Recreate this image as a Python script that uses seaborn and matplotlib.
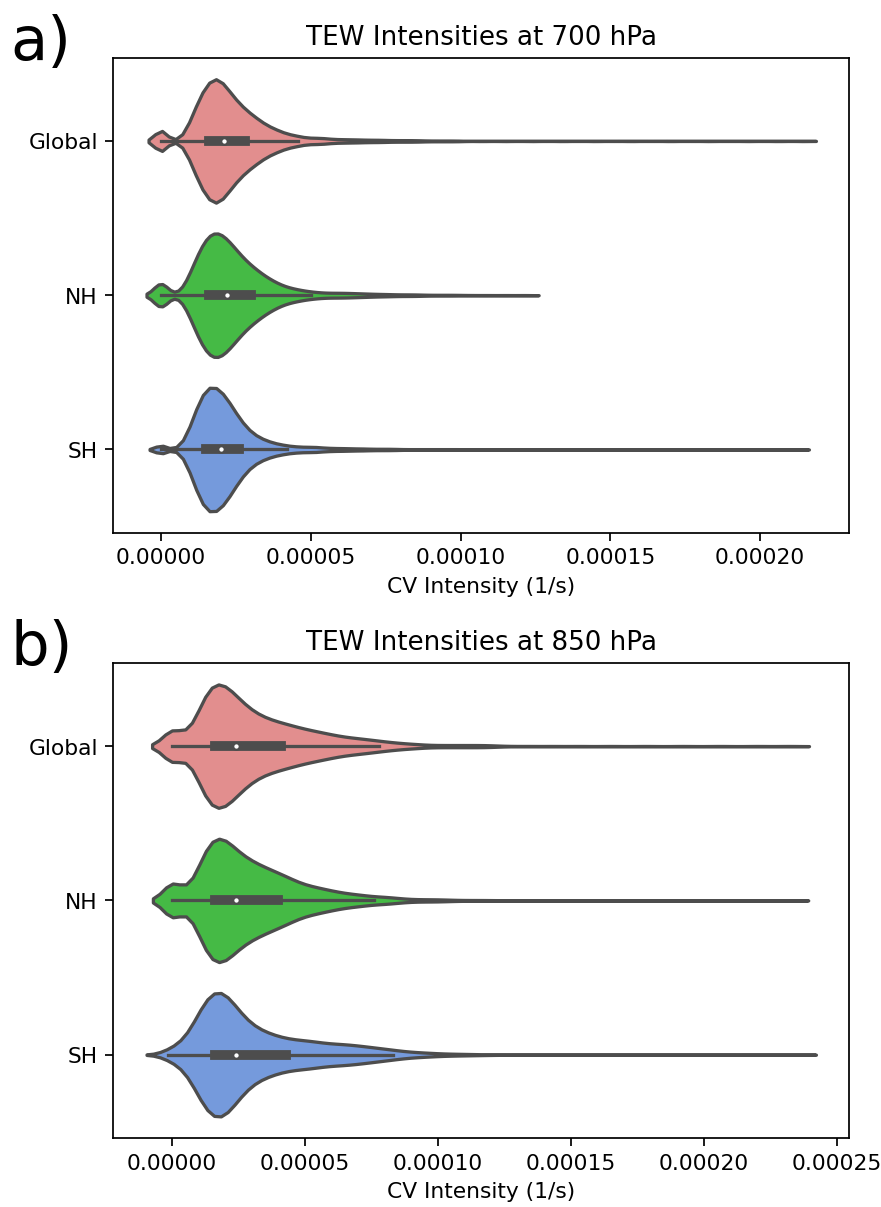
import numpy as np
import pandas as pd
import matplotlib.pyplot as plt
import seaborn as sns

regions = ["Global", "NH", "SH"]
colors = ["lightcoral", "limegreen", "cornflowerblue"]
gray = (0.3, 0.3, 0.3)
unit = 1e-5  # all intensities below are in units of 1e-5 1/s

# 700 hPa: intensity bins and number of TEWs per bin
bins_700 = [0.0, 0.2, 0.4, 0.6, 0.8, 1.0, 1.2, 1.4, 1.6, 1.8, 2.0, 2.2, 2.4, 2.6, 2.8, 3.0,
            3.2, 3.4, 3.6, 3.8, 4.0, 4.2, 4.4, 4.6, 4.8, 5.0, 5.2, 5.4, 5.6, 5.8, 6.0,
            6.2, 6.4, 6.6, 6.8, 7.0, 7.2, 7.4, 7.6, 7.8, 8.0, 8.2, 8.4, 8.6, 8.8, 9.0,
            9.2, 9.4, 9.6, 9.8, 10.0]
global_700 = [66, 0, 0, 0, 18, 54, 96, 130, 150, 168, 156, 135, 114, 96, 81, 69,
              58, 46, 37, 31, 24, 18, 15, 12, 8, 8, 8, 8, 6, 4, 5,
              4, 4, 4, 3, 3, 3, 3, 2, 2, 2, 2, 2, 2, 1, 1, 1, 1, 1, 1, 1]
nh_700 = [84, 0, 0, 0, 21, 60, 99, 132, 153, 162, 156, 141, 123, 105, 87, 75,
          63, 51, 42, 33, 26, 20, 17, 14, 11, 9, 8, 6, 6, 6, 6,
          6, 5, 5, 4, 4, 3, 3, 3, 2, 2, 2, 2, 2, 1, 1, 1, 1, 1, 1, 1]
sh_700 = [27, 0, 0, 6, 27, 72, 126, 165, 186, 186, 171, 150, 120, 93, 69, 51,
          39, 30, 24, 18, 15, 12, 9, 9, 7, 8, 8, 5, 5, 4, 4,
          4, 3, 3, 3, 2, 2, 2, 2, 2, 1, 1, 1, 1, 1, 1, 1, 1, 1, 1, 1]
# single events off the bin grid (mostly the strong tail)
global_700_extra = [4.59, 10.7, 11.5, 12.4, 13.4, 14.5, 15.7, 17.0, 18.3, 19.6, 20.6, 21.45]
nh_700_extra = [10.4, 10.9, 11.5, 12.13]
sh_700_extra = [10.2, 11.1, 12.1, 13.2, 14.4, 15.6, 16.9, 18.2, 19.5, 20.6, 21.25]

# 850 hPa
bins_850 = [0.0, 0.4, 0.8, 1.2, 1.6, 2.0, 2.4, 2.8, 3.2, 3.6, 4.0, 4.4, 4.8, 5.2, 5.6, 6.0,
            6.4, 6.8, 7.2, 7.6, 8.0, 8.4, 8.8, 9.2, 9.6, 10.0, 10.4, 10.8, 11.2, 11.6, 12.0]
global_850 = [90, 9, 45, 150, 186, 171, 138, 108, 87, 75, 66, 59, 50, 44, 38, 32,
              26, 23, 20, 16, 12, 10, 7, 6, 3, 3, 3, 3, 3, 3, 3]
nh_850 = [90, 9, 39, 138, 177, 165, 132, 111, 96, 84, 72, 60, 45, 38, 32, 26,
          20, 17, 14, 10, 10, 7, 4, 3, 3, 3, 2, 1, 1, 1, 1]
sh_850 = [24, 27, 78, 150, 186, 174, 126, 90, 69, 59, 48, 42, 39, 38, 32, 29,
          29, 26, 23, 19, 16, 11, 9, 6, 6, 3, 3, 2, 2, 1, 1]
global_850_extra = [7.8, 12.6, 13.4, 14.3, 15.3, 16.5, 17.8, 19.2, 20.6, 22.0, 23.2]
nh_850_extra = [12.7, 13.8, 15.0, 16.4, 18.0, 19.8, 21.5, 23.2]
sh_850_extra = [-0.15, -0.15, 8.3, 13.0, 14.3, 15.8, 17.5, 19.4, 21.3, 23.4]


def build(bins, counts, extras):
    rows = []
    for reg, cnt, extra in zip(regions, counts, extras):
        vals = np.concatenate([np.repeat(bins, cnt), extra]) * unit
        rows.append(pd.DataFrame({"region": reg, "cv": vals}))
    return pd.concat(rows, ignore_index=True)


def iqr_bw(c):
    # kernel width proportional to the interquartile range of each group
    def factor(kde):
        d = kde.dataset.ravel()
        q1, q3 = np.percentile(d, [25, 75])
        return c * (q3 - q1) / d.std(ddof=1)
    return factor


def draw_panel(ax, df, c, title):
    sns.violinplot(data=df, x="cv", y="region", hue="region", order=regions,
                   hue_order=regions, palette=colors, legend=False, inner=None,
                   linewidth=1.5, linecolor=gray, bw_method=iqr_bw(c), ax=ax)
    # box inside the violin (quartiles, 1.5 IQR whiskers, median dot)
    for i, reg in enumerate(regions):
        v = df.loc[df.region == reg, "cv"].to_numpy()
        q1, med, q3 = np.percentile(v, [25, 50, 75])
        lim = 1.5 * (q3 - q1)
        lo = v[v >= q1 - lim].min()
        hi = v[v <= q3 + lim].max()
        ax.plot([lo, hi], [i, i], color=gray, lw=1.5, solid_capstyle="projecting")
        ax.plot([q1, q3], [i, i], color=gray, lw=4.5, solid_capstyle="projecting")
        ax.scatter(med, i, s=9, color="white", edgecolor=gray, zorder=3)
    ax.set_title(title)
    ax.set_xlabel("CV Intensity (1/s)")
    ax.set_ylabel("")


df700 = build(bins_700, [global_700, nh_700, sh_700],
              [global_700_extra, nh_700_extra, sh_700_extra])
df850 = build(bins_850, [global_850, nh_850, sh_850],
              [global_850_extra, nh_850_extra, sh_850_extra])

W, H = 881, 1207
fig = plt.figure(figsize=(881.4 / 157, 1207.4 / 157), dpi=157)
ax1 = fig.add_axes([113 / W, 1 - 533 / H, 736 / W, 475 / H])
ax2 = fig.add_axes([113 / W, 1 - 1138 / H, 736 / W, 475 / H])

draw_panel(ax1, df700, 0.17, "TEW Intensities at 700 hPa")
draw_panel(ax2, df850, 0.15, "TEW Intensities at 850 hPa")

fig.text(10 / W, 1 - 60 / H, "a)", fontsize=28, va="baseline")
fig.text(10 / W, 1 - 665 / H, "b)", fontsize=28, va="baseline")

fig.savefig("out.png", dpi=157)
